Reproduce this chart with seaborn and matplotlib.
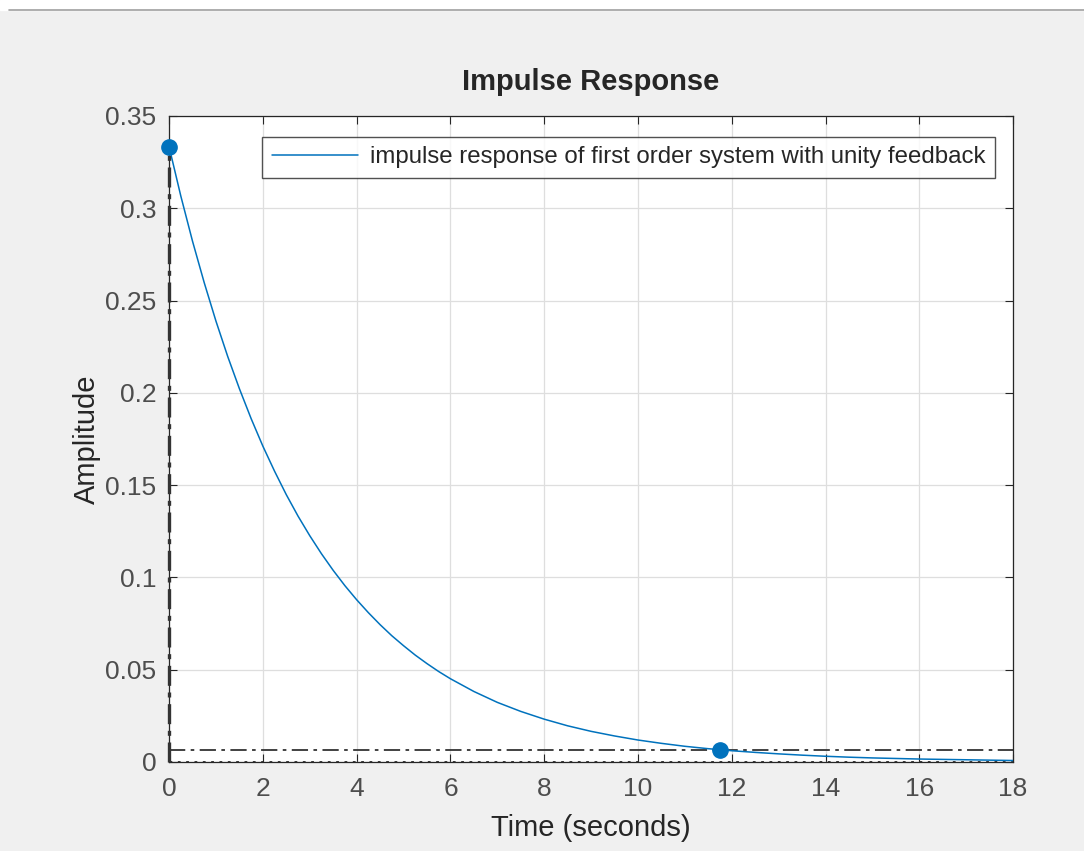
import numpy as np
import pandas as pd
import matplotlib
matplotlib.use("Agg")
import matplotlib.pyplot as plt
import seaborn as sns

# values
time_s = [0, 0.25, 0.5, 0.75, 1, 1.25, 1.5, 1.75, 2, 2.25, 2.5, 2.75, 3, 3.25, 3.5,
          3.75, 4, 4.25, 4.5, 4.75, 5, 5.25, 5.5, 5.75, 6,
          6.5, 7, 7.5, 8, 8.5, 9, 9.5, 10, 10.5, 11, 11.5, 12, 12.5, 13, 13.5,
          14, 14.5, 15, 15.5, 16, 16.5, 17, 17.5, 18]
amplitude = [0.3333, 0.3066, 0.2821, 0.2596, 0.2388, 0.2197, 0.2022, 0.1860, 0.1711,
             0.1575, 0.1448, 0.1332, 0.1226, 0.1128, 0.1038, 0.0955, 0.0879,
             0.0809, 0.0744, 0.0684, 0.0630, 0.0579, 0.0533, 0.0490, 0.0451,
             0.0382, 0.0323, 0.0274, 0.0232, 0.0196, 0.0166, 0.0141, 0.0119,
             0.0101, 0.0085, 0.0072, 0.0061, 0.0052, 0.0044, 0.0037, 0.0031,
             0.0026, 0.0022, 0.0019, 0.0016, 0.0014, 0.0012, 0.0010, 0.0008]
peak_t, peak_y = 0.0, 0.3333
settle_t, settle_y = 11.74, 0.0067
legend_label = "impulse response of first order system with unity feedback"

df = pd.DataFrame({"Time": time_s, "Amplitude": amplitude})

sns.set_style("ticks")
plt.rcParams["font.family"] = ["Liberation Sans", "DejaVu Sans"]

fig = plt.figure(figsize=(10.84, 8.51), dpi=100, facecolor="#f0f0f0")
ax = fig.add_axes([0.156, 0.1046, 0.7786, 0.7591])
ax.set_facecolor("white")

blue = "#0072bd"
sns.lineplot(data=df, x="Time", y="Amplitude", ax=ax, color=blue, linewidth=1.1,
             label=legend_label, zorder=3)

# characteristics lines
ax.axhline(0, color="#262626", linestyle=(0, (1, 2)), linewidth=2.0, zorder=2)
ax.axhline(settle_y, color="#333333", linestyle=(0, (9, 3, 2, 3)), linewidth=1.3, zorder=2)
ax.plot([peak_t, peak_t], [0, peak_y], color="#333333", linestyle=(0, (6, 2, 1.5, 2)),
        linewidth=2.4, zorder=4, clip_on=False)
ax.plot([peak_t, settle_t], [peak_y, settle_y], linestyle="none", marker="o",
        markersize=11, color=blue, zorder=5, clip_on=False)

ax.set_xlim(0, 18)
ax.set_ylim(0, 0.35)
ax.set_xticks(np.arange(0, 19, 2))
ax.set_yticks(np.arange(0, 0.351, 0.05))
ax.set_yticklabels(["0", "0.05", "0.1", "0.15", "0.2", "0.25", "0.3", "0.35"])
ax.grid(True, color="#dedede", linewidth=0.9)
ax.set_axisbelow(True)
ax.tick_params(direction="in", top=True, right=True, length=6, width=0.8,
               color="#262626", labelsize=19, labelcolor="#4d4d4d")
ax.tick_params(axis="x", pad=11)
ax.tick_params(axis="y", pad=9)
for s in ax.spines.values():
    s.set_color("#262626")
    s.set_linewidth(0.9)

ax.set_title("Impulse Response", fontsize=21, fontweight="bold", pad=19)
ax.set_xlabel("Time (seconds)", fontsize=21, labelpad=9)
ax.set_ylabel("Amplitude", fontsize=21, labelpad=3)

leg = ax.legend(loc="upper right", bbox_to_anchor=(0.979, 0.968), fontsize=17.3,
                frameon=True, fancybox=False, handlelength=3.6, handletextpad=0.5,
                borderpad=0.4, borderaxespad=0)
leg.get_frame().set_edgecolor("#262626")
leg.get_frame().set_linewidth(1.0)

# thin separator strip at the top like the window
fig.patches.append(plt.Rectangle((0, 0.988), 1, 0.012, transform=fig.transFigure,
                                 color="white", zorder=0))
fig.lines.append(plt.Line2D([0.008, 1], [0.988, 0.988], transform=fig.transFigure,
                            color="#a0a0a0", linewidth=1.2))

fig.savefig("out.png", dpi=100, facecolor=fig.get_facecolor())
